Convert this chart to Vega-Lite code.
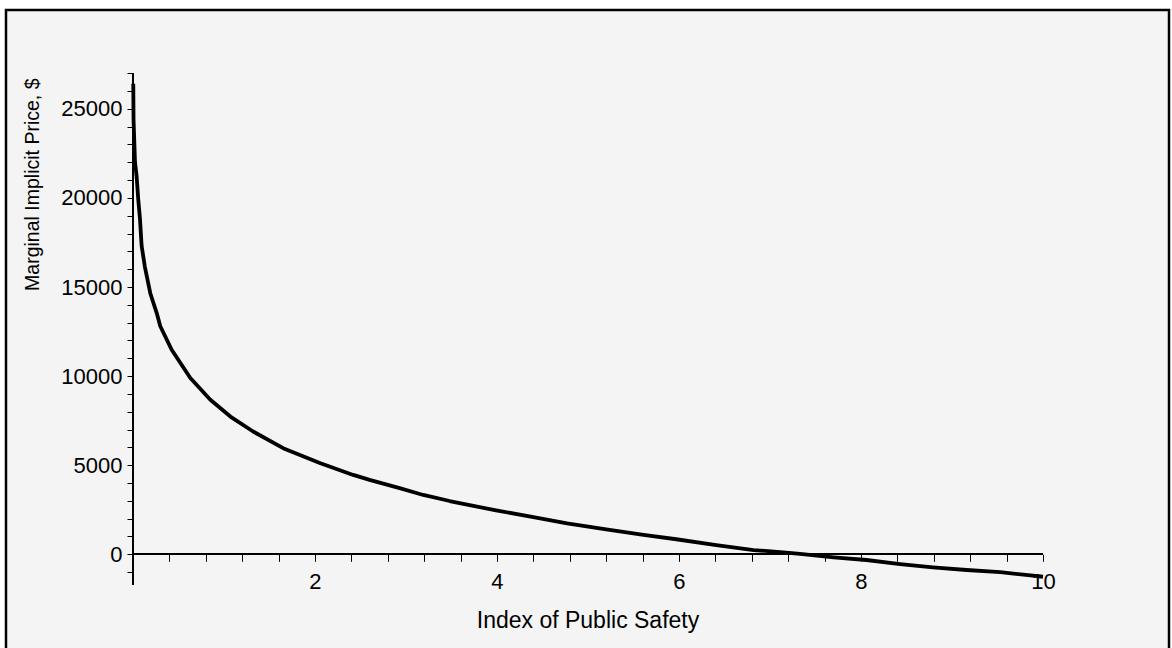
{
  "$schema": "https://vega.github.io/schema/vega-lite/v6.json",
  "autosize": "none",
  "padding": {"left": 6, "top": 10, "right": 3, "bottom": -3},
  "width": 1163,
  "height": 641,
  "background": "white",
  "config": {
    "font": "Liberation Sans",
    "axis": {"labelOverlap": false, "labelFlush": false},
    "view": {"fill": "#f4f4f4", "stroke": "black", "strokeWidth": 2.5}
  },
  "resolve": {"axis": {"y": "independent"}},
  "data": {
    "values": [
      {"x": 0.003, "y": 26400},
      {"x": 0.006, "y": 24400},
      {"x": 0.022, "y": 22000},
      {"x": 0.04, "y": 21200},
      {"x": 0.058, "y": 19900},
      {"x": 0.077, "y": 18800},
      {"x": 0.095, "y": 17300},
      {"x": 0.13, "y": 16150},
      {"x": 0.19, "y": 14650},
      {"x": 0.26, "y": 13550},
      {"x": 0.3, "y": 12800},
      {"x": 0.425, "y": 11480},
      {"x": 0.63, "y": 9890},
      {"x": 0.85, "y": 8670},
      {"x": 1.07, "y": 7730},
      {"x": 1.32, "y": 6890},
      {"x": 1.65, "y": 5955},
      {"x": 2.06, "y": 5110},
      {"x": 2.42, "y": 4455},
      {"x": 2.6, "y": 4175},
      {"x": 2.93, "y": 3710},
      {"x": 3.19, "y": 3330},
      {"x": 3.48, "y": 2990},
      {"x": 3.74, "y": 2720},
      {"x": 3.99, "y": 2470},
      {"x": 4.4, "y": 2080},
      {"x": 4.77, "y": 1740},
      {"x": 5.2, "y": 1400},
      {"x": 5.61, "y": 1085},
      {"x": 5.97, "y": 845},
      {"x": 6.41, "y": 520},
      {"x": 6.82, "y": 240},
      {"x": 7.18, "y": 90},
      {"x": 7.33, "y": 20},
      {"x": 7.7, "y": -170},
      {"x": 8.06, "y": -320},
      {"x": 8.43, "y": -545},
      {"x": 8.79, "y": -730},
      {"x": 9.16, "y": -880},
      {"x": 9.53, "y": -1000},
      {"x": 9.89, "y": -1200},
      {"x": 10, "y": -1260}
    ]
  },
  "layer": [
    {
      "mark": {"type": "line", "color": "black", "strokeWidth": 3.8, "strokeJoin": "round"},
      "encoding": {
        "x": {
          "field": "x", "type": "quantitative",
          "scale": {"domain": [-1.3956, 11.385], "nice": false, "zero": false},
          "axis": {
            "title": "Index of Public Safety",
            "values": [0.4, 0.8, 1.2, 1.6, 2, 2.4, 2.8, 3.2, 3.6, 4, 4.4, 4.8, 5.2, 5.6, 6, 6.4, 6.8, 7.2, 7.6, 8, 8.4, 8.8, 9.2, 9.6, 10],
            "labelExpr": "datum.value % 2 === 0 ? format(datum.value, 'd') : ''",
            "labelOverlap": false,
            "labelFlush": false,
            "domain": false,
            "grid": false,
            "offset": -96.7,
            "tickSize": 7,
            "tickColor": "black",
            "tickWidth": 1,
            "labelColor": "black",
            "labelFontSize": 22,
            "labelPadding": 10,
            "titleFontSize": 23,
            "titleFontWeight": "normal",
            "titleColor": "black",
            "titleBaseline": "top",
            "titleY": 55
          }
        },
        "y": {
          "field": "y", "type": "quantitative",
          "scale": {"domain": [-5426, 30544], "nice": false, "zero": false},
          "axis": {
            "orient": "left",
            "title": "Marginal Implicit Price, $",
            "values": [0, 5000, 10000, 15000, 20000, 25000],
            "format": "d",
            "labelOverlap": false,
            "labelFlush": false,
            "domain": false,
            "grid": false,
            "offset": -127,
            "tickSize": 6,
            "tickColor": "black",
            "tickWidth": 1,
            "labelColor": "black",
            "labelFontSize": 22,
            "labelPadding": 5,
            "titleFontSize": 19.5,
            "titleFontWeight": "normal",
            "titleColor": "black",
            "titleAngle": -90,
            "titleAlign": "right",
            "titleBaseline": "alphabetic",
            "titleX": -95,
            "titleY": 68
          }
        }
      }
    },
    {
      "mark": {"type": "rule", "color": "black", "strokeWidth": 1},
      "encoding": {
        "x": {"datum": 0, "type": "quantitative"},
        "y": {
          "datum": -1684, "type": "quantitative",
          "scale": {"domain": [-5426, 30544], "nice": false, "zero": false},
          "axis": {
            "orient": "left",
            "title": null,
            "values": [-1000, 1000, 2000, 3000, 4000, 6000, 7000, 8000, 9000, 11000, 12000, 13000, 14000, 16000, 17000, 18000, 19000, 21000, 22000, 23000, 24000, 26000, 27000],
            "labels": false,
            "domain": false,
            "grid": false,
            "offset": -127,
            "tickSize": 6,
            "tickColor": "black",
            "tickWidth": 1
          }
        },
        "y2": {"datum": 27000}
      }
    },
    {
      "mark": {"type": "rule", "color": "black", "strokeWidth": 1},
      "encoding": {
        "x": {"datum": 0, "type": "quantitative"},
        "x2": {"datum": 10},
        "y": {"datum": 0, "type": "quantitative", "axis": null}
      }
    }
  ]
}
